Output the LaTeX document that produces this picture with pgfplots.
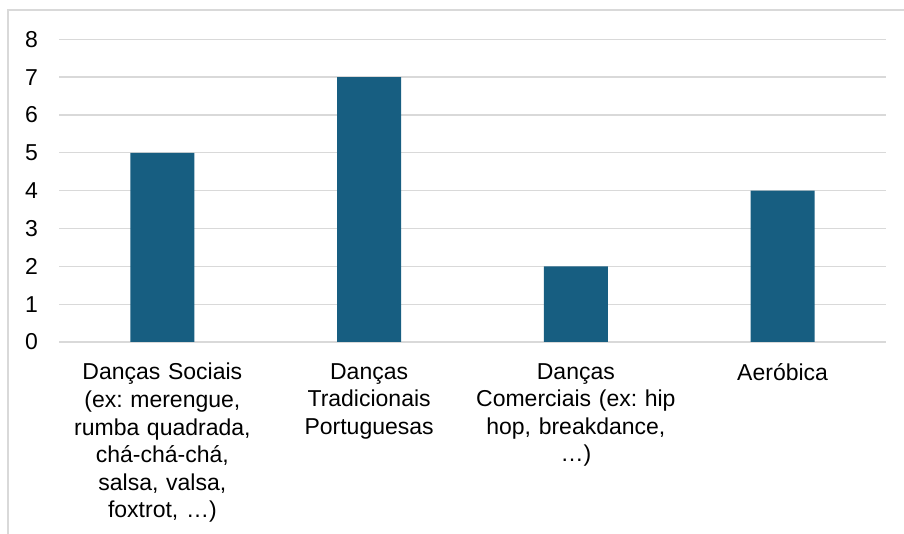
\documentclass[border=0pt]{standalone}
\usepackage{fontspec}
\setmainfont{Liberation Sans}
\usepackage{pgfplots}
\pgfplotsset{compat=1.18}
\definecolor{barblue}{HTML}{175E81}
\definecolor{gridgray}{HTML}{D9D9D9}
\frenchspacing
\begin{document}
\begin{tikzpicture}
\draw[gridgray, line width=1.2pt] (8pt,-20pt) rectangle (930pt,524pt);
\begin{axis}[
    at={(59pt,192pt)}, anchor=south west,
    scale only axis,
    width=827pt, height=302.7pt,
    xmin=-0.5, xmax=3.5,
    ymin=0, ymax=8,
    ytick={0,1,...,8},
    xtick=data,
    xticklabels={
        {Danças Sociais\\(ex: merengue,\\rumba quadrada,\\chá-chá-chá,\\salsa, valsa,\\foxtrot, …)},
        {Danças\\Tradicionais\\Portuguesas},
        {Danças\\Comerciais (ex: hip\\hop, breakdance,\\…)},
        {Aeróbica}},
    axis line style={draw=none},
    major tick length=0pt,
    ymajorgrids,
    grid style={gridgray, line width=1.3pt},
    /pgf/number format/assume math mode=true,
    ticklabel style={font=\fontsize{23}{27.6}\selectfont, inner sep=0pt},
    yticklabel style={xshift=-21pt},
    xticklabel style={text width=206pt, align=center, anchor=north, yshift=-21pt},
]
\addplot[ybar, bar width=64pt, fill=barblue, draw=none] coordinates {(0,5) (1,7) (2,2) (3,4)};
\end{axis}
\pgfresetboundingbox
\useasboundingbox (0,0) rectangle (904pt,534pt);
\end{tikzpicture}
\end{document}
